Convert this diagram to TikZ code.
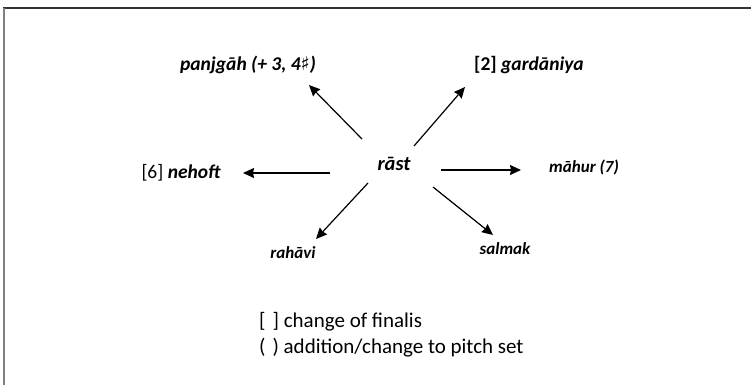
\documentclass[tikz,border=0pt]{standalone}
\usepackage{fontspec}
\setmainfont{Carlito}
\newfontfamily\symfont{DejaVu Sans}
\usetikzlibrary{arrows.meta}
\tikzset{
  x=1pt, y=-1pt,
  mode/.style={font=\fontsize{19.5}{22}\selectfont\bfseries\itshape, inner sep=0pt},
  minor/.style={font=\fontsize{17}{20}\selectfont\bfseries\itshape, inner sep=0pt},
  tonic/.style={font=\fontsize{20.5}{24}\selectfont\bfseries\itshape, inner sep=0pt},
  legend/.style={font=\fontsize{21}{26}\selectfont, inner sep=0pt, anchor=west},
  arr/.style={line width=1.2pt, -{Stealth[length=11pt,width=10pt,inset=1pt]}},
}
\begin{document}
\begin{tikzpicture}
\useasboundingbox (0,0) rectangle (751,385);
% frame: top rule and left rule
\draw[line width=1.3pt, black!80] (3,8) -- (751,8);
\draw[line width=2pt, black!50] (4,8) -- (4,385);

% central mode and its neighbours
\node[tonic] (rast) at (394,164) {rāst};
\node[mode] (panj) at (248,65) {panjgāh (+ 3, 4{\symfont\bfseries\fontsize{19}{21}\selectfont ♯})};
\node[mode] (gard) at (529,65) {{\upshape [2]} gardāniya};
\node[mode] (neh)  at (181,173) {{\upshape\mdseries [6]} nehoft};
\node[minor] (mah) at (584,167) {māhur (7)};
\node[minor] (rah) at (293,253) {rahāvi};
\node[minor] (sal) at (505,249) {salmak};

% arrow end points
\coordinate (pA) at (362,139); \coordinate (pB) at (309,85);
\coordinate (gA) at (414,146); \coordinate (gB) at (465,87);
\coordinate (nA) at (330,173); \coordinate (nB) at (243,173);
\coordinate (mA) at (441,170); \coordinate (mB) at (521,170);
\coordinate (rA) at (368,183); \coordinate (rB) at (316,239);
\coordinate (sA) at (433,187); \coordinate (sB) at (493,235);

\draw[arr] (pA) -- (pB);
\draw[arr] (gA) -- (gB);
\draw[arr] (nA) -- (nB);
\draw[arr] (mA) -- (mB);
\draw[arr] (rA) -- (rB);
\draw[arr] (sA) -- (sB);

% legend
\node[legend] (l1) at (259,322) {[\,\,] change of finalis};
\node[legend] (l2) at (259,348) {(\,\,) addition/change to pitch set};
\end{tikzpicture}
\end{document}
